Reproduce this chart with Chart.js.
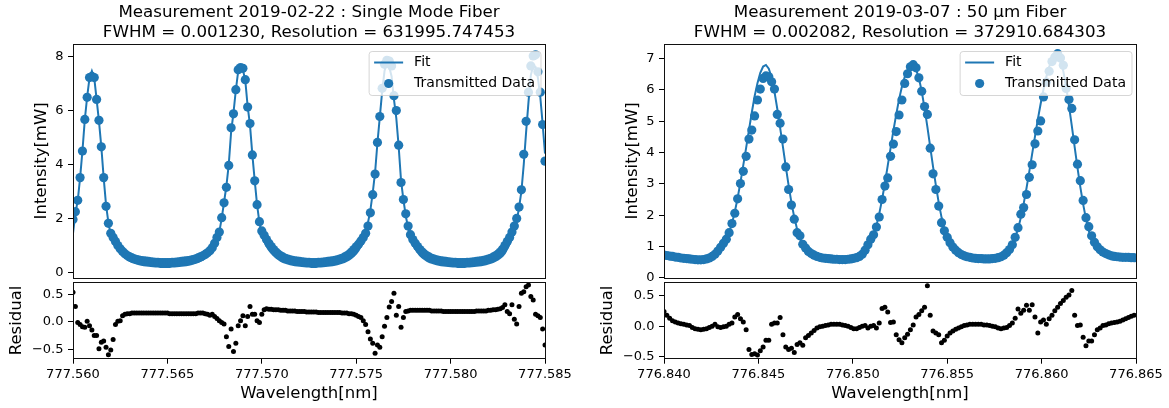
<!DOCTYPE html>
<html>
<head>
<meta charset="utf-8">
<title>Fabry-Perot resolution</title>
<script src="https://cdn.jsdelivr.net/npm/chart.js@4.4.0/dist/chart.umd.min.js"></script>
<style>
  html, body { margin: 0; padding: 0; background: #fff; overflow: hidden; }
  body { width: 1169px; height: 408px; position: relative; }
  canvas { position: absolute; }
</style>
</head>
<body>
<canvas id="mainL" width="618" height="290" style="left:0px;top:0px"></canvas>
<canvas id="resL" width="618" height="138" style="left:0px;top:270px"></canvas>
<canvas id="mainR" width="618" height="290" style="left:591px;top:0px"></canvas>
<canvas id="resR" width="618" height="138" style="left:591px;top:270px"></canvas>
<script>
// wavelength sampling of the two scans (nm)
const wlStartL = 777.560, wlStepL = 0.000125;
const wlStartR = 776.840, wlStepR = 0.00015;

const titleL = ['Measurement 2019-02-22 : Single Mode Fiber', 'FWHM = 0.001230, Resolution = 631995.747453'];
const titleR = ['Measurement 2019-03-07 : 50 \u03bcm Fiber', 'FWHM = 0.002082, Resolution = 372910.684303'];

// single mode fiber: transmitted intensity [mW]
const dataL = [
  1.96, 2.25, 2.67, 3.51, 4.49, 5.66, 6.48, 7.21, 7.25, 7.21,
  6.40, 5.63, 4.65, 3.51, 2.45, 1.82, 1.45, 1.30, 1.15, 1.00,
  0.88, 0.78, 0.70, 0.63, 0.58, 0.54, 0.51, 0.48, 0.46, 0.44,
  0.43, 0.42, 0.41, 0.40, 0.39, 0.38, 0.38, 0.37, 0.37, 0.37,
  0.37, 0.37, 0.38, 0.38, 0.39, 0.40, 0.41, 0.42, 0.43, 0.44,
  0.46, 0.48, 0.51, 0.54, 0.58, 0.62, 0.67, 0.73, 0.81, 0.92,
  1.08, 1.30, 1.50, 2.03, 2.58, 3.15, 3.96, 5.35, 5.87, 6.76,
  7.50, 7.58, 7.55, 7.13, 6.12, 5.51, 4.35, 3.39, 2.51, 1.88,
  1.54, 1.38, 1.22, 1.08, 0.96, 0.85, 0.76, 0.68, 0.62, 0.57,
  0.53, 0.50, 0.47, 0.45, 0.43, 0.42, 0.41, 0.40, 0.39, 0.38,
  0.38, 0.37, 0.37, 0.37, 0.38, 0.38, 0.39, 0.40, 0.41, 0.42,
  0.43, 0.45, 0.47, 0.50, 0.53, 0.57, 0.62, 0.68, 0.76, 0.85,
  0.95, 1.05, 1.17, 1.30, 1.45, 1.72, 2.21, 2.88, 3.64, 4.81,
  5.77, 6.81, 7.70, 7.85, 7.82, 7.64, 6.54, 5.99, 4.71, 3.33,
  2.70, 2.17, 1.72, 1.40, 1.22, 1.08, 0.96, 0.85, 0.76, 0.68,
  0.62, 0.57, 0.53, 0.50, 0.47, 0.45, 0.43, 0.42, 0.41, 0.40,
  0.39, 0.38, 0.38, 0.37, 0.37, 0.37, 0.37, 0.38, 0.38, 0.39,
  0.40, 0.41, 0.42, 0.43, 0.45, 0.47, 0.50, 0.53, 0.57, 0.62,
  0.68, 0.76, 0.86, 1.00, 1.15, 1.30, 1.50, 1.72, 2.00, 2.42,
  3.06, 4.37, 5.59, 6.67, 7.64, 8.01, 8.05, 7.42, 6.67, 5.47,
  4.12
];
const fitL = [
  1.45, 2.20, 2.65, 3.50, 4.50, 5.65, 6.50, 7.20, 7.45, 7.20,
  6.40, 5.60, 4.65, 3.50, 2.50, 1.85, 1.40, 1.15, 0.97, 0.84,
  0.73, 0.64, 0.56, 0.49, 0.43, 0.39, 0.36, 0.33, 0.31, 0.29,
  0.27, 0.26, 0.25, 0.24, 0.23, 0.22, 0.22, 0.21, 0.21, 0.21,
  0.21, 0.21, 0.22, 0.22, 0.23, 0.24, 0.25, 0.26, 0.27, 0.29,
  0.31, 0.33, 0.36, 0.39, 0.43, 0.48, 0.54, 0.61, 0.70, 0.82,
  0.98, 1.20, 1.50, 2.00, 2.60, 3.20, 4.00, 5.20, 5.90, 6.75,
  7.45, 7.60, 7.50, 7.10, 6.15, 5.45, 4.35, 3.40, 2.50, 1.85,
  1.40, 1.15, 0.97, 0.84, 0.73, 0.64, 0.56, 0.49, 0.43, 0.39,
  0.36, 0.33, 0.31, 0.29, 0.27, 0.26, 0.25, 0.24, 0.23, 0.22,
  0.22, 0.21, 0.21, 0.21, 0.22, 0.22, 0.23, 0.24, 0.25, 0.26,
  0.27, 0.29, 0.31, 0.33, 0.36, 0.39, 0.43, 0.48, 0.54, 0.61,
  0.70, 0.82, 0.98, 1.20, 1.50, 1.85, 2.30, 2.95, 3.70, 4.80,
  5.75, 6.70, 7.45, 7.75, 7.60, 7.25, 6.40, 5.70, 4.65, 3.40,
  2.70, 2.10, 1.65, 1.30, 1.05, 0.88, 0.75, 0.64, 0.56, 0.49,
  0.43, 0.39, 0.36, 0.33, 0.31, 0.29, 0.27, 0.26, 0.25, 0.24,
  0.23, 0.22, 0.22, 0.21, 0.21, 0.21, 0.21, 0.22, 0.22, 0.23,
  0.24, 0.25, 0.26, 0.27, 0.29, 0.31, 0.33, 0.36, 0.39, 0.43,
  0.48, 0.54, 0.61, 0.72, 0.88, 1.05, 1.25, 1.55, 1.90, 2.40,
  3.00, 4.00, 5.20, 6.30, 7.30, 7.65, 7.60, 7.20, 6.50, 5.50,
  4.40
];
const residL = [
  0.54, 0.28, -0.01, -0.05, -0.09, -0.10, 0.01, -0.07, -0.15, -0.25,
  -0.25, -0.49, -0.37, -0.35, -0.46, -0.60, -0.51, -0.32, -0.05, 0.01,
  0.02, 0.11, 0.14, 0.15, 0.15, 0.16, 0.16, 0.16, 0.16, 0.16,
  0.16, 0.16, 0.16, 0.16, 0.16, 0.16, 0.16, 0.16, 0.16, 0.16,
  0.16, 0.15, 0.15, 0.15, 0.15, 0.15, 0.15, 0.15, 0.15, 0.15,
  0.15, 0.15, 0.15, 0.16, 0.16, 0.16, 0.15, 0.14, 0.12, 0.14,
  0.10, 0.06, 0.02, -0.01, -0.04, -0.27, -0.45, -0.13, -0.54, -0.39,
  -0.07, 0.02, 0.11, -0.07, 0.10, 0.28, 0.14, 0.14, 0.02, -0.01,
  0.14, 0.22, 0.24, 0.23, 0.23, 0.22, 0.22, 0.22, 0.21, 0.21,
  0.21, 0.20, 0.20, 0.20, 0.20, 0.19, 0.19, 0.19, 0.19, 0.18,
  0.18, 0.18, 0.18, 0.18, 0.17, 0.17, 0.17, 0.17, 0.17, 0.17,
  0.17, 0.17, 0.17, 0.17, 0.16, 0.16, 0.16, 0.15, 0.15, 0.14,
  0.12, 0.10, 0.08, 0.02, -0.05, -0.18, -0.31, -0.39, -0.57, -0.42,
  -0.46, -0.27, -0.08, 0.08, 0.27, 0.37, 0.52, 0.12, 0.28, -0.10,
  0.08, 0.19, 0.20, 0.21, 0.21, 0.21, 0.21, 0.21, 0.21, 0.21,
  0.21, 0.21, 0.20, 0.20, 0.20, 0.20, 0.20, 0.19, 0.19, 0.19,
  0.19, 0.19, 0.19, 0.19, 0.19, 0.19, 0.19, 0.19, 0.19, 0.19,
  0.19, 0.20, 0.20, 0.20, 0.20, 0.20, 0.21, 0.21, 0.22, 0.22,
  0.23, 0.24, 0.26, 0.31, 0.19, 0.15, 0.31, 0.05, -0.04, 0.28,
  0.52, 0.55, 0.64, 0.67, 0.46, 0.40, 0.14, 0.11, 0.08, -0.13,
  -0.42
];

// 50 um fiber
const dataR = [
  0.72, 0.71, 0.69, 0.68, 0.66, 0.65, 0.63, 0.62, 0.61, 0.60,
  0.59, 0.58, 0.57, 0.57, 0.58, 0.60, 0.63, 0.68, 0.75, 0.85,
  0.97, 1.10, 1.23, 1.44, 1.73, 2.06, 2.52, 3.01, 3.40, 3.88,
  4.43, 4.72, 5.17, 5.68, 6.03, 6.37, 6.45, 6.42, 6.26, 6.03,
  5.22, 4.94, 4.43, 3.54, 2.82, 2.32, 1.87, 1.44, 1.34, 1.07,
  0.95, 0.84, 0.77, 0.72, 0.68, 0.65, 0.63, 0.62, 0.61, 0.60,
  0.59, 0.59, 0.58, 0.58, 0.58, 0.59, 0.60, 0.62, 0.64, 0.68,
  0.75, 0.88, 1.05, 1.23, 1.37, 1.62, 1.94, 2.50, 2.93, 3.19,
  3.88, 4.27, 4.67, 5.20, 5.68, 6.21, 6.52, 6.74, 6.81, 6.71,
  6.39, 5.96, 5.47, 5.22, 4.14, 3.32, 2.82, 2.29, 1.76, 1.50,
  1.29, 1.12, 0.98, 0.88, 0.80, 0.74, 0.70, 0.67, 0.65, 0.63,
  0.62, 0.61, 0.61, 0.60, 0.60, 0.60, 0.61, 0.62, 0.64, 0.67,
  0.72, 0.80, 0.90, 1.05, 1.29, 1.60, 2.03, 2.24, 2.66, 3.21,
  3.61, 4.28, 4.69, 5.01, 5.78, 6.25, 6.60, 6.91, 7.05, 7.16,
  7.02, 6.79, 6.05, 5.70, 5.41, 4.41, 3.63, 3.10, 2.47, 1.92,
  1.63, 1.34, 1.13, 0.99, 0.89, 0.82, 0.77, 0.73, 0.70, 0.68,
  0.67, 0.66, 0.65, 0.65, 0.65, 0.64, 0.64
];
const fitR = [
  0.70, 0.68, 0.66, 0.64, 0.62, 0.61, 0.60, 0.59, 0.59, 0.59,
  0.60, 0.61, 0.62, 0.63, 0.64, 0.66, 0.68, 0.71, 0.75, 0.82,
  0.92, 1.05, 1.22, 1.45, 1.74, 2.10, 2.55, 3.05, 3.60, 4.15,
  4.72, 5.28, 5.80, 6.22, 6.55, 6.75, 6.80, 6.68, 6.40, 5.95,
  5.40, 4.80, 4.18, 3.55, 2.95, 2.40, 1.93, 1.55, 1.26, 1.05,
  0.90, 0.80, 0.73, 0.68, 0.65, 0.63, 0.62, 0.61, 0.60, 0.59,
  0.59, 0.58, 0.58, 0.58, 0.58, 0.59, 0.60, 0.62, 0.64, 0.68,
  0.74, 0.83, 0.96, 1.13, 1.36, 1.66, 2.04, 2.50, 3.02, 3.58,
  4.14, 4.70, 5.22, 5.70, 6.10, 6.42, 6.64, 6.76, 6.78, 6.66,
  6.38, 5.96, 5.42, 4.82, 4.18, 3.55, 2.95, 2.40, 1.93, 1.55,
  1.26, 1.06, 0.92, 0.82, 0.75, 0.70, 0.67, 0.65, 0.63, 0.62,
  0.61, 0.60, 0.60, 0.60, 0.60, 0.60, 0.61, 0.62, 0.64, 0.67,
  0.72, 0.80, 0.91, 1.07, 1.28, 1.56, 1.92, 2.36, 2.86, 3.40,
  3.96, 4.52, 5.06, 5.56, 6.02, 6.42, 6.74, 6.96, 7.08, 7.08,
  6.92, 6.60, 6.10, 5.50, 4.85, 4.18, 3.52, 2.90, 2.35, 1.88,
  1.50, 1.22, 1.02, 0.89, 0.80, 0.74, 0.70, 0.67, 0.65, 0.64,
  0.63, 0.62, 0.62, 0.62, 0.62, 0.62, 0.62
];
const residR = [
  0.24, 0.18, 0.13, 0.09, 0.07, 0.05, 0.04, 0.03, 0.02, 0.01,
  -0.02, -0.04, -0.05, -0.06, -0.05, -0.04, -0.02, 0.00, 0.03, -0.01,
  -0.02, -0.01, 0.00, 0.03, 0.05, 0.15, 0.19, 0.12, 0.07, -0.06,
  -0.38, -0.46, -0.45, -0.47, -0.40, -0.34, -0.23, -0.23, 0.03, 0.05,
  0.05, 0.14, -0.14, -0.34, -0.38, -0.36, -0.43, -0.30, -0.27, -0.31,
  -0.19, -0.15, -0.11, -0.07, -0.03, -0.01, 0.00, 0.01, 0.02, 0.03,
  0.03, 0.03, 0.03, 0.02, 0.01, 0.00, -0.02, -0.04, -0.04, -0.02,
  0.00, 0.01, -0.03, 0.00, 0.01, -0.03, 0.05, 0.29, 0.31, 0.23,
  0.06, 0.07, -0.14, -0.22, -0.27, -0.19, -0.13, -0.06, 0.02, 0.15,
  0.19, 0.25, 0.31, 0.66, 0.18, -0.08, -0.11, -0.14, -0.27, -0.23,
  -0.16, -0.11, -0.08, -0.05, -0.03, -0.01, 0.01, 0.02, 0.03, 0.03,
  0.03, 0.03, 0.03, 0.02, 0.02, 0.01, 0.00, -0.01, -0.03, -0.04,
  -0.03, -0.02, 0.01, 0.05, 0.13, 0.28, 0.21, 0.26, 0.34, 0.26,
  0.35, 0.15, -0.11, 0.07, 0.10, 0.03, 0.12, 0.18, 0.25, 0.31,
  0.37, 0.42, 0.47, 0.51, 0.58, 0.18, 0.01, 0.02, -0.18, -0.32,
  -0.24, -0.24, -0.14, -0.06, -0.03, 0.01, 0.02, 0.04, 0.05, 0.06,
  0.07, 0.08, 0.10, 0.12, 0.14, 0.16, 0.18
];

// axis ticks
const xTicksL = [777.560, 777.565, 777.570, 777.575, 777.580, 777.585];
const xTicksR = [776.840, 776.845, 776.850, 776.855, 776.860, 776.865];
const yTicksL = [0, 2, 4, 6, 8];
const yTicksR = [0, 1, 2, 3, 4, 5, 6, 7];
const resTicks = [-0.5, 0.0, 0.5];

const BLUE = '#1f77b4';
Chart.defaults.font.family = "'DejaVu Sans', sans-serif";
Chart.defaults.font.size = 13;
Chart.defaults.color = '#000';

function toPoints(start, step, values) {
  return values.map((v, i) => ({ x: start + i * step, y: v }));
}

// black box round the plot area, like matplotlib spines
const framePlugin = {
  id: 'frame',
  afterDatasetsDraw(chart) {
    const a = chart.chartArea, ctx = chart.ctx;
    ctx.save();
    ctx.strokeStyle = '#111';
    ctx.lineWidth = 1;
    ctx.strokeRect(Math.round(a.left) + 0.5, Math.round(a.top) + 0.5,
      Math.round(a.right - a.left), Math.round(a.bottom - a.top));
    ctx.restore();
  }
};

// legend inside the upper right corner with a translucent frame
const legendPlugin = {
  id: 'boxLegend',
  afterDatasetsDraw(chart) {
    const a = chart.chartArea, ctx = chart.ctx;
    const scat = chart.data.datasets[0], fit = chart.data.datasets[1];
    ctx.save();
    ctx.font = "14px 'DejaVu Sans'";
    const tw = Math.max(ctx.measureText(fit.label).width, ctx.measureText(scat.label).width);
    const w = 45 + tw + 6, h = 44;
    const x = a.right - 4 - w, y = a.top + 7.5;
    const r = 3;
    ctx.beginPath();
    ctx.moveTo(x + r, y);
    ctx.lineTo(x + w - r, y);
    ctx.arcTo(x + w, y, x + w, y + r, r);
    ctx.lineTo(x + w, y + h - r);
    ctx.arcTo(x + w, y + h, x + w - r, y + h, r);
    ctx.lineTo(x + r, y + h);
    ctx.arcTo(x, y + h, x, y + h - r, r);
    ctx.lineTo(x, y + r);
    ctx.arcTo(x, y, x + r, y, r);
    ctx.closePath();
    ctx.fillStyle = 'rgba(255,255,255,0.8)';
    ctx.fill();
    ctx.strokeStyle = 'rgba(204,204,204,0.8)';
    ctx.lineWidth = 1;
    ctx.stroke();

    const r1 = y + 11, r2 = y + 32;
    ctx.strokeStyle = BLUE;
    ctx.lineWidth = 2;
    ctx.beginPath();
    ctx.moveTo(x + 5, r1);
    ctx.lineTo(x + 34, r1);
    ctx.stroke();
    ctx.fillStyle = BLUE;
    ctx.beginPath();
    ctx.arc(x + 19.5, r2, 4.6, 0, Math.PI * 2);
    ctx.fill();
    ctx.fillStyle = '#000';
    ctx.textBaseline = 'middle';
    ctx.textAlign = 'left';
    ctx.fillText(fit.label, x + 45, r1);
    ctx.fillText(scat.label, x + 45, r2);
    ctx.restore();
  }
};

// empty axis on the right so that the title is centred over the plot
const spacerAxis = {
  position: 'right',
  afterFit: s => { s.width = 73; },
  ticks: { display: false },
  grid: { display: false },
  border: { display: false }
};

function yAxis(min, max, ticks, label, titlePad, fmt) {
  return {
    min: min, max: max,
    afterFit: s => { s.width = 73; },
    afterBuildTicks: s => { s.ticks = ticks.map(v => ({ value: v })); },
    ticks: { font: { size: 13 }, padding: 4.5, callback: fmt },
    grid: { drawOnChartArea: false, tickLength: 5, tickColor: '#000', tickWidth: 1 },
    border: { display: false },
    title: { display: true, text: label, font: { size: 16.5 }, padding: { top: titlePad, bottom: 0 } }
  };
}

function mainChart(id, title, start, step, data, fit, xmin, xmax, ymin, ymax, yTicks) {
  return new Chart(document.getElementById(id), {
    type: 'scatter',
    data: {
      datasets: [
        {
          label: 'Transmitted Data',
          data: toPoints(start, step, data),
          pointBackgroundColor: BLUE, pointBorderColor: BLUE, pointBorderWidth: 0,
          pointRadius: 4.6, order: 0
        },
        {
          label: 'Fit',
          data: toPoints(start, step, fit),
          showLine: true, borderColor: BLUE, borderWidth: 2,
          pointRadius: 0, fill: false, order: 1
        }
      ]
    },
    options: {
      responsive: false, animation: false, devicePixelRatio: 1, events: [],
      layout: { padding: { left: 0, right: 0, top: 0, bottom: 10 } },
      plugins: {
        legend: { display: false },
        tooltip: { enabled: false },
        title: {
          display: true, text: title, color: '#000',
          font: { size: 16.7, weight: 'normal', lineHeight: 1.15 },
          padding: { top: 3.5, bottom: 2.1 }
        }
      },
      scales: {
        x: { type: 'linear', display: false, min: xmin, max: xmax },
        y: yAxis(ymin, ymax, yTicks, 'Intensity[mW]', 32.2, v => String(v)),
        yR: spacerAxis
      }
    },
    plugins: [framePlugin, legendPlugin]
  });
}

function residChart(id, start, step, resid, xmin, xmax, xTicks, ymin, ymax) {
  return new Chart(document.getElementById(id), {
    type: 'scatter',
    data: {
      datasets: [{
        label: 'Residual',
        data: toPoints(start, step, resid),
        pointBackgroundColor: '#000', pointBorderColor: '#000', pointBorderWidth: 0,
        pointRadius: 2.5
      }]
    },
    options: {
      responsive: false, animation: false, devicePixelRatio: 1, events: [],
      layout: { padding: { left: 0, right: 0, top: 10, bottom: 0 } },
      plugins: { legend: { display: false }, tooltip: { enabled: false } },
      scales: {
        x: {
          type: 'linear', min: xmin, max: xmax,
          afterFit: s => { s.height = 49.3; },
          afterBuildTicks: s => { s.ticks = xTicks.map(v => ({ value: v })); },
          ticks: { font: { size: 13 }, padding: 3.5, maxRotation: 0, autoSkip: false, callback: v => v.toFixed(3) },
          grid: { drawOnChartArea: false, tickLength: 5, tickColor: '#000', tickWidth: 1 },
          border: { display: false },
          title: { display: true, text: 'Wavelength[nm]', font: { size: 16.5 }, padding: { top: 0, bottom: 4.2 } }
        },
        y: yAxis(ymin, ymax, resTicks, 'Residual', 7.2, v => v.toFixed(1).replace('-', '\u2212')),
        yR: spacerAxis
      }
    },
    plugins: [framePlugin]
  });
}

mainChart('mainL', titleL, wlStartL, wlStepL, dataL, fitL, 777.560, 777.585, -0.19, 8.45, yTicksL);
residChart('resL', wlStartL, wlStepL, residL, 777.560, 777.585, xTicksL, -0.67, 0.72);
mainChart('mainR', titleR, wlStartR, wlStepR, dataR, fitR, 776.840, 776.865, 0, 7.47, yTicksR);
residChart('resR', wlStartR, wlStepR, residR, 776.840, 776.865, xTicksR, -0.53, 0.715);
</script>
</body>
</html>
